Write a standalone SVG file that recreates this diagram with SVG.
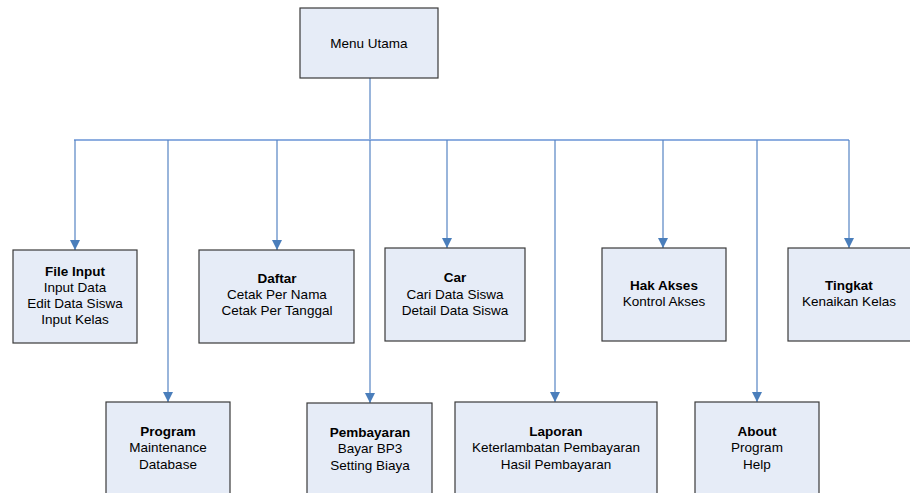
<svg xmlns="http://www.w3.org/2000/svg" width="910" height="493" viewBox="0 0 910 493">
  <defs>
    <marker id="arrow" viewBox="0 0 10 10" refX="10" refY="5" markerWidth="10" markerHeight="10" markerUnits="userSpaceOnUse" orient="auto">
      <path d="M0,0 L10,5 L0,10 z" fill="#4a7ebb"/>
    </marker>
    <style>
      .box { fill: #e6ecf7; stroke: #3a3a3a; stroke-width: 1.2; }
      .t { font-family: "Liberation Sans", Arial, sans-serif; font-size: 13.5px; fill: #000; text-anchor: middle; }
      .b { font-weight: bold; }
      .ln { stroke: #5584c3; stroke-width: 1.2; fill: none; }
      .bar { stroke: #8eaee0; stroke-width: 2.2; fill: none; }
    </style>
  </defs>
  <rect width="910" height="493" fill="#ffffff"/>

  <!-- connectors -->
  <g id="connectors">
    <path class="ln" d="M370,78 V140"/>
    <path class="bar" d="M74,140 H849"/>
    <path class="ln" d="M75,140 V250" marker-end="url(#arrow)"/>
    <path class="ln" d="M168,140 V402" marker-end="url(#arrow)"/>
    <path class="ln" d="M277,140 V250" marker-end="url(#arrow)"/>
    <path class="ln" d="M370,140 V403" marker-end="url(#arrow)"/>
    <path class="ln" d="M447,140 V248" marker-end="url(#arrow)"/>
    <path class="ln" d="M555,140 V402" marker-end="url(#arrow)"/>
    <path class="ln" d="M663,140 V248" marker-end="url(#arrow)"/>
    <path class="ln" d="M757,140 V402" marker-end="url(#arrow)"/>
    <path class="ln" d="M849,140 V248" marker-end="url(#arrow)"/>
  </g>

  <g id="menu-utama">
    <rect class="box" x="300" y="8" width="138" height="70"/>
    <text class="t" x="369" y="48">Menu Utama</text>
  </g>

  <g id="file-input">
    <rect class="box" x="13" y="250" width="124" height="93"/>
    <text class="t b" x="75" y="276">File Input</text>
    <text class="t" x="75" y="292">Input Data</text>
    <text class="t" x="75" y="308">Edit Data Siswa</text>
    <text class="t" x="75" y="324">Input Kelas</text>
  </g>

  <g id="daftar">
    <rect class="box" x="199" y="250" width="155" height="93"/>
    <text class="t b" x="277" y="283">Daftar</text>
    <text class="t" x="277" y="299">Cetak Per Nama</text>
    <text class="t" x="277" y="315">Cetak Per Tanggal</text>
  </g>

  <g id="cari">
    <rect class="box" x="385" y="248" width="140" height="93"/>
    <text class="t b" x="455" y="282">Car</text>
    <text class="t" x="455" y="299">Cari Data Siswa</text>
    <text class="t" x="455" y="315">Detail Data Siswa</text>
  </g>

  <g id="hak-akses">
    <rect class="box" x="602" y="248" width="124" height="93"/>
    <text class="t b" x="664" y="290">Hak Akses</text>
    <text class="t" x="664" y="306">Kontrol Akses</text>
  </g>

  <g id="tingkat">
    <rect class="box" x="788" y="248" width="125" height="93"/>
    <text class="t b" x="849" y="290">Tingkat</text>
    <text class="t" x="849" y="306">Kenaikan Kelas</text>
  </g>

  <g id="program">
    <rect class="box" x="106" y="402" width="124" height="100"/>
    <text class="t b" x="168" y="436">Program</text>
    <text class="t" x="168" y="452">Maintenance</text>
    <text class="t" x="168" y="469">Database</text>
  </g>

  <g id="pembayaran">
    <rect class="box" x="307" y="403" width="125" height="100"/>
    <text class="t b" x="370" y="437">Pembayaran</text>
    <text class="t" x="370" y="453">Bayar BP3</text>
    <text class="t" x="370" y="470">Setting Biaya</text>
  </g>

  <g id="laporan">
    <rect class="box" x="455" y="402" width="202" height="100"/>
    <text class="t b" x="556" y="436">Laporan</text>
    <text class="t" x="556" y="452">Keterlambatan Pembayaran</text>
    <text class="t" x="556" y="469">Hasil Pembayaran</text>
  </g>

  <g id="about">
    <rect class="box" x="695" y="402" width="124" height="100"/>
    <text class="t b" x="757" y="436">About</text>
    <text class="t" x="757" y="452">Program</text>
    <text class="t" x="757" y="469">Help</text>
  </g>
</svg>
